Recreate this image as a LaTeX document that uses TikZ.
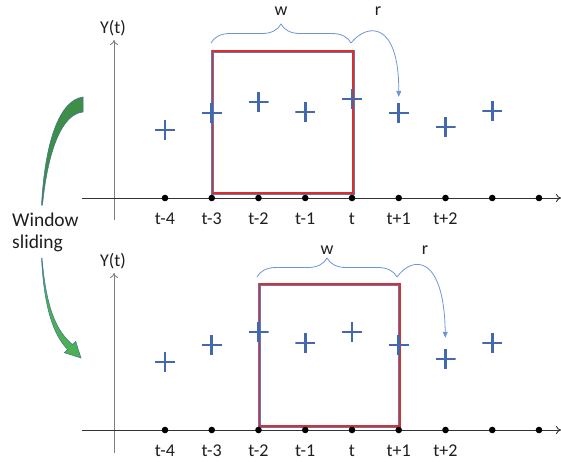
\documentclass[tikz,border=0pt]{standalone}
\usepackage{fontspec}
\setmainfont{Carlito}
\usepackage{tikz}
\usetikzlibrary{calc,arrows.meta,decorations.pathreplacing}

\definecolor{plusblue}{HTML}{4468AE}
\definecolor{braceblue}{HTML}{6F95D8}
\definecolor{boxred}{HTML}{D8302E}
\definecolor{boxblue}{HTML}{6A74B0}
\definecolor{slidegreen}{HTML}{3E8E47}
\definecolor{slidegreenb}{HTML}{4DB052}
\definecolor{slideedge}{HTML}{41719C}
\definecolor{txt}{HTML}{1E1E1E}

\begin{document}
\begin{tikzpicture}[
    x=1pt, y=-1pt,
    font=\fontsize{18}{21}\selectfont, text=txt,
    dot/.style={circle, fill=black, inner sep=0pt, minimum size=6.6pt},
    plusmk/.style={inner sep=0pt, minimum size=20pt,
        path picture={\draw[plusblue, line width=2.6pt]
            (path picture bounding box.north) -- (path picture bounding box.south)
            (path picture bounding box.west) -- (path picture bounding box.east);}},
    tlbl/.style={anchor=base, inner sep=0pt},
    winbox/.style={draw=boxred, line width=1.7pt, inner sep=0pt, anchor=south west,
        preaction={draw=boxblue, line width=2.9pt}},
    xaxis/.style={draw=black!80, line width=0.9pt, -{To[length=5pt,width=8pt]}},
    yaxis/.style={draw=black!50, line width=0.9pt, -{To[length=5pt,width=8pt]}},
    wbrace/.style={draw=braceblue, line width=0.8pt, decorate, decoration={brace, amplitude=19pt}},
    rarrow/.style={draw=braceblue, line width=0.8pt, -{Triangle[length=6pt,width=5pt]}},
    slidetop/.style={fill=slidegreen, draw=slideedge, line width=0.5pt},
    slidebot/.style={fill=slidegreenb, draw=slideedge, line width=0.5pt},
    slidelbl/.style={anchor=base west, inner sep=0pt, font=\fontsize{19.5}{22}\selectfont}
]
\useasboundingbox (0,0) rectangle (561,461);

% window sliding arrow
\draw[slidetop] (41.5,205) .. controls (45,140) and (60,100) .. (83,97)
    -- (83,112) .. controls (62,114) and (48,150) .. (42.5,205) -- cycle;
\draw[slidebot] (42,258) .. controls (46,305) and (55,330) .. (72.5,344.5)
    -- (75.7,341.3) -- (81,358) -- (64.3,352.7) -- (67.5,349.5)
    .. controls (52,333) and (44,305) .. (41.5,258) -- cycle;
\node[slidelbl] (lblwin) at (12,226) {Window};
\node[slidelbl] (lblsld) at (12,248) {sliding};

% top panel
\coordinate (xa1) at (82,198);
\coordinate (xb1) at (561,198);
\coordinate (ya1) at (114,220);
\coordinate (yb1) at (114,40);
\draw[yaxis] (ya1) -- (yb1);
\node[tlbl] (ylbl1) at (113,33) {Y(t)};
\node[winbox, minimum width=140.5pt, minimum height=142pt] (box1) at (211.75,194) {};
\draw[xaxis] (xa1) -- (xb1);
\foreach \i in {1,...,9}
  \node[dot] (d1\i) at ({165+46.75*(\i-1)},198) {};
\foreach \i/\t in {1/t-4,2/t-3,3/t-2,4/t-1,5/t,6/t+1,7/t+2}
  \node[tlbl] (t1\i) at ({165+46.75*(\i-1)},224) {\t};
\foreach \i/\y in {1/130,2/113,3/102,4/112,5/99,6/113,7/127,8/111}
  \node[plusmk] (p1\i) at ({165+46.75*(\i-1)},\y) {};
\coordinate (wl1) at (211,43);
\coordinate (wr1) at (351,43);
\draw[wbrace] (wl1) -- (wr1);
\node[tlbl] (w1) at (281,15) {w};
\node[tlbl] (r1) at (378,15) {r};
\draw[rarrow, shorten >=6pt] (wr1) .. controls (368,22) and (399,22) .. (p16.north);

% bottom panel
\coordinate (xa2) at (82,430);
\coordinate (xb2) at (561,430);
\coordinate (ya2) at (114,453);
\coordinate (yb2) at (114,273);
\draw[yaxis] (ya2) -- (yb2);
\node[tlbl] (ylbl2) at (113,266) {Y(t)};
\node[winbox, minimum width=140.5pt, minimum height=142pt] (box2) at (258.5,427) {};
\draw[xaxis] (xa2) -- (xb2);
\foreach \i in {1,...,9}
  \node[dot] (d2\i) at ({165+46.75*(\i-1)},430) {};
\foreach \i/\t in {1/t-4,2/t-3,3/t-2,4/t-1,5/t,6/t+1,7/t+2}
  \node[tlbl] (t2\i) at ({165+46.75*(\i-1)},456) {\t};
\foreach \i/\y in {1/362,2/345,3/332,4/343,5/332,6/345,7/359,8/343}
  \node[plusmk] (p2\i) at ({165+46.75*(\i-1)},\y) {};
\coordinate (wl2) at (257,277);
\coordinate (wr2) at (397,277);
\draw[wbrace] (wl2) -- (wr2);
\node[tlbl] (w2) at (327,254) {w};
\node[tlbl] (r2) at (425,254) {r};
\draw[rarrow, shorten >=11pt] (wr2) .. controls (413,255) and (444,255) .. (p27.north);
\end{tikzpicture}
\end{document}
